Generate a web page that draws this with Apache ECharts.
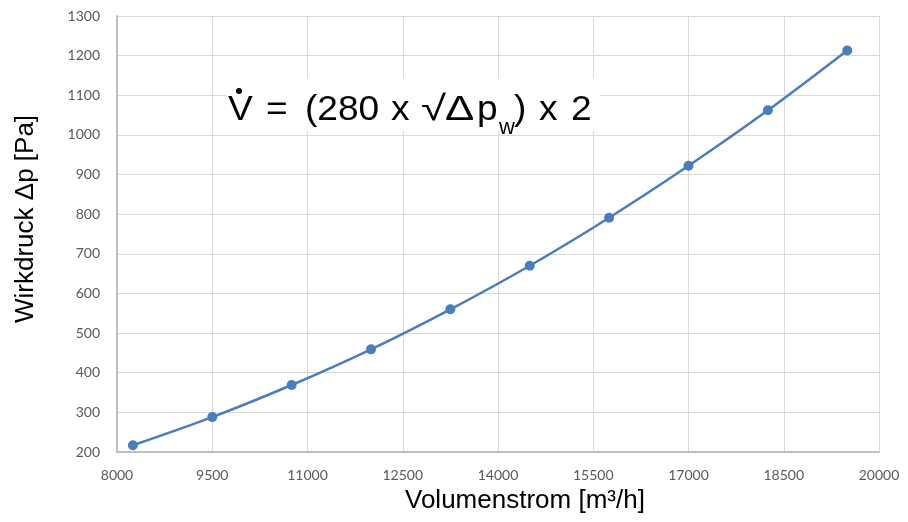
<!DOCTYPE html>
<html>
<head>
<meta charset="utf-8">
<script src="https://cdn.jsdelivr.net/npm/echarts@6/dist/echarts.min.js"></script>
<style>
html, body { margin: 0; padding: 0; background: #fff; }
#chart { width: 908px; height: 522px; }
</style>
</head>
<body>
<div id="chart"></div>
<script>
// Volumenstrom [m³/h] und Wirkdruck [Pa]
var volumenstrom = [8250, 9500, 10750, 12000, 13250, 14500, 15750, 17000, 18250, 19500];
var wirkdruck = [217, 288, 369, 459, 560, 670, 791, 922, 1062, 1213];

var xTicks = { min: 8000, max: 20000, interval: 1500 };
var yTicks = { min: 200, max: 1300, interval: 100 };

var dom = document.getElementById('chart');
var myChart = echarts.init(dom);

var punkte = volumenstrom.map(function (v, i) { return [v, wirkdruck[i]]; });

var tickFont = { color: '#595959', fontSize: 14, fontFamily: 'Lato', formatter: function (v) { return String(v); } };
var titleFont = '26px "Liberation Sans", Arial';
var formelFont = '35px "Liberation Sans", Arial';

// Formel in einzelnen Stücken, damit die Abstände wie im Original sind
function formelTeil(text, x, y, font, sx) {
    return { type: 'text', x: x, y: y, z: 11, scaleX: sx || 1.06, style: { text: text, fill: '#000', font: font || formelFont } };
}

option = {
    animation: false,
    grid: { left: 117, right: 29, top: 16, bottom: 70 },
    xAxis: {
        type: 'value',
        min: xTicks.min,
        max: xTicks.max,
        interval: xTicks.interval,
        axisLine: { lineStyle: { color: '#bfbfbf', width: 2 } },
        axisTick: { show: false },
        axisLabel: Object.assign({ margin: 16 }, tickFont),
        splitLine: { lineStyle: { color: '#d9d9d9', width: 1 } }
    },
    yAxis: {
        type: 'value',
        min: yTicks.min,
        max: yTicks.max,
        interval: yTicks.interval,
        axisLine: { show: true, lineStyle: { color: '#bfbfbf', width: 2 } },
        axisTick: { show: false },
        axisLabel: Object.assign({ margin: 17 }, tickFont),
        splitLine: { lineStyle: { color: '#d9d9d9', width: 1 } }
    },
    graphic: [
        {
            type: 'text',
            left: 405, top: 488,
            style: { text: 'Volumenstrom [m³/h]', fill: '#000', font: titleFont }
        },
        {
            type: 'text',
            x: 13, y: 323, rotation: Math.PI / 2,
            style: { text: 'Wirkdruck Δp [Pa]', fill: '#000', font: titleFont }
        },
        {
            type: 'rect',
            shape: { x: 226, y: 78, width: 374, height: 53 },
            style: { fill: '#fff' },
            z: 10
        },
        formelTeil('V', 228, 93),
        { type: 'circle', shape: { cx: 239, cy: 91, r: 3 }, style: { fill: '#000' }, z: 11 },
        formelTeil('=', 266, 93),
        formelTeil('(280', 305, 93),
        formelTeil('x', 391, 93),
        formelTeil('√', 421, 93, null, 1.3),
        formelTeil('Δ', 445, 93, null, 1.25),
        formelTeil('p', 477, 93),
        formelTeil('w', 499, 117, '22px "Liberation Sans", Arial', 1),
        formelTeil(')', 514, 93),
        formelTeil('x', 539, 93),
        formelTeil('2', 571, 93)
    ],
    series: [
        {
            type: 'line',
            data: punkte,
            smooth: 0.3,
            symbol: 'circle',
            symbolSize: 10,
            itemStyle: { color: '#4a7ebb' },
            lineStyle: { color: '#4a7ebb', width: 2.5 },
            z: 5
        }
    ]
};

if (option && typeof option === 'object') {
    myChart.setOption(option, true);
}
</script>
</body>
</html>
